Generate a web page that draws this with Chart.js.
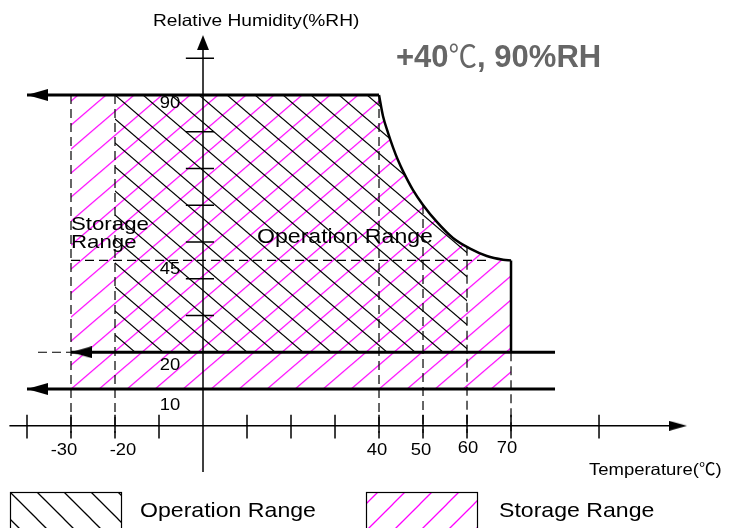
<!DOCTYPE html>
<html>
<head>
<meta charset="utf-8">
<script src="https://cdn.jsdelivr.net/npm/chart.js@4.4.1/dist/chart.umd.min.js"></script>
<style>
  html, body { margin: 0; padding: 0; background: #fff; }
  #wrap { width: 733px; height: 528px; position: relative; }
</style>
</head>
<body>
<div id="wrap"><canvas id="rhChart"></canvas></div>
<script>
// Boundary of the upper-right corner (temperature degC, humidity %RH)
const curveT  = [40, 40.9, 42.05, 43.2, 44.3, 45.45, 47.7, 50, 53.2, 56.8, 60.7, 64.5, 68.2, 70];
const curveRH = [90, 84.3, 79.7, 75.7, 72.3, 69.3, 64.2, 60.1, 55.4, 51.1, 48.2, 46.2, 45.2, 45];

// Hatched ranges
const storageT    = [-30, 40, 40.9, 42.05, 43.2, 44.3, 45.45, 47.7, 50, 53.2, 56.8, 60.7, 64.5, 68.2, 70, 70];
const storageRH   = [90, 90, 84.3, 79.7, 75.7, 72.3, 69.3, 64.2, 60.1, 55.4, 51.1, 48.2, 46.2, 45.2, 45, 10];
const operationT  = [-20, 40, 40.9, 42.05, 43.2, 44.3, 45.45, 47.7, 50, 53.2, 56.8, 60, 60];
const operationRH = [90, 90, 84.3, 79.7, 75.7, 72.3, 69.3, 64.2, 60.1, 55.4, 51.1, 48.7, 20];

// Solid limit lines
const top90T = [-40, 40];
const low20T = [-30, 80];
const low10T = [-40, 80];
const side70RH = [45, 20];

// Dashed guide lines
const guideT     = [-30, -20, 40, 50, 60, 70];
const guideTopRH = [90, 90, 90, 60.1, 48.7, 20];
const guideBottomRH = -2;
const guide45T = [-30, 65];
const guide20T = [-37.5, -30];

// Axes
const xAxisT  = [-44, 108];
const yAxisRH = [-12.6, 104];
const tempTicks = [-40, -30, -20, -10, 10, 20, 30, 40, 50, 60, 70, 90];
const rhTicks   = [30, 40, 50, 60, 70, 80, 100];
const tempLabels = [-30, -20, 40, 50, 60, 70];
const rhLabels   = [90, 45, 20, 10];

// Arrow heads
const arrowT   = [0, -40, -30, -40, 110];
const arrowRH  = [106.3, 90, 20, 10, 0];
const arrowDir = ['up', 'left', 'left', 'left', 'right'];

const FONT = '"Liberation Sans", Arial, "Noto Sans CJK SC", sans-serif';
const CJK = '"Noto Sans CJK SC", "Liberation Sans", sans-serif';

const canvas = document.getElementById('rhChart');
const ctx = canvas.getContext('2d');

function hatch(w, h, color, dir) {
  const c = document.createElement('canvas');
  c.width = w; c.height = h;
  const g = c.getContext('2d');
  g.strokeStyle = color;
  g.lineWidth = 1.25;
  for (let k = -1; k <= 1; k++) {
    g.beginPath();
    if (dir === '/') { g.moveTo(-w + k * w, 2 * h); g.lineTo(2 * w + k * w, -h); }
    else { g.moveTo(-w + k * w, -h); g.lineTo(2 * w + k * w, 2 * h); }
    g.stroke();
  }
  return ctx.createPattern(c, 'repeat');
}

const HW = 28, HH = 24;
const storagePat = hatch(HW, HH, '#ff00ff', '/');
const operationPat = hatch(HW, HH, '#000000', '\\');
const legendStoragePat = hatch(27, 27, '#ff00ff', '/');
const legendOperationPat = hatch(27, 27, '#000000', '\\');

function arrowImg(len, wid) {
  const c = document.createElement('canvas');
  c.width = len * 2; c.height = wid;
  const g = c.getContext('2d');
  g.fillStyle = '#000';
  g.beginPath();
  g.moveTo(0, 0); g.lineTo(len, wid / 2); g.lineTo(0, wid); g.closePath();
  g.fill();
  return c;
}
const arrowStyle = { up: arrowImg(15, 12), left: arrowImg(21, 12), right: arrowImg(18, 10) };
const arrowRot = { up: 270, left: 180, right: 0 };

function seg(xs, ys, opts) {
  return Object.assign({
    data: xs.map((x, i) => ({ x: x, y: ys[i] })),
    borderColor: '#000',
    borderWidth: 1.5,
    pointRadius: 0,
    fill: false,
    tension: 0,
    order: 1
  }, opts);
}

const dash = { borderWidth: 1.2, borderDash: [9, 5] };

const datasets = [
  seg(storageT, storageRH, { borderColor: 'transparent', borderWidth: 1, backgroundColor: storagePat,
    fill: { value: storageRH[storageRH.length - 1] }, order: 6 }),
  seg(operationT, operationRH, { borderColor: 'transparent', borderWidth: 1, backgroundColor: operationPat,
    fill: { value: operationRH[operationRH.length - 1] }, order: 5 }),
  seg(xAxisT, [0, 0]),
  seg([0, 0], yAxisRH),
  ...tempTicks.map(t => seg([t, t], [3, -3.5])),
  ...rhTicks.map(v => seg([-3.9, 2.5], [v, v])),
  ...guideT.map((t, i) => seg([t, t], [guideTopRH[i], guideBottomRH], dash)),
  seg(guide45T, [45, 45], dash),
  seg(guide20T, [20, 20], dash),
  seg(top90T, [90, 90], { borderWidth: 3 }),
  seg(curveT, curveRH, { borderWidth: 2.5, cubicInterpolationMode: 'monotone' }),
  seg([70, 70], side70RH, { borderWidth: 2.5 }),
  seg(low20T, [20, 20], { borderWidth: 3 }),
  seg(low10T, [10, 10], { borderWidth: 3 }),
  {
    data: arrowT.map((t, i) => ({ x: t, y: arrowRH[i] })),
    showLine: false,
    pointRadius: 6,
    pointStyle: c => arrowStyle[arrowDir[c.dataIndex]],
    rotation: c => arrowRot[arrowDir[c.dataIndex]],
    borderWidth: 0,
    order: 0
  }
];

function txt(g, s, x, y, size, sx, opts) {
  opts = opts || {};
  g.save();
  g.font = (opts.bold ? 'bold ' : '') + size + 'px ' + (opts.family || FONT);
  g.fillStyle = opts.color || '#000';
  g.textAlign = opts.align || 'left';
  g.textBaseline = 'alphabetic';
  g.translate(x, y);
  g.scale(sx, 1);
  g.fillText(s, 0, 0);
  const w = g.measureText(s).width * sx;
  g.restore();
  return w;
}

const phasePlugin = {
  id: 'phase',
  beforeDatasetsDraw(chart) {
    const xs = chart.scales.x, ys = chart.scales.y;
    storagePat.setTransform(new DOMMatrix().translate(
      xs.getPixelForValue(storageT[0]), ys.getPixelForValue(storageRH[storageRH.length - 1]) - HH));
    operationPat.setTransform(new DOMMatrix().translate(
      xs.getPixelForValue(operationT[0]), ys.getPixelForValue(operationRH[0])));
  }
};

const decorPlugin = {
  id: 'decor',
  afterDraw(chart) {
    const g = chart.ctx;
    const xs = chart.scales.x, ys = chart.scales.y;

    // tick labels
    const tOff = { '-30': [-7, 29], '-20': [8, 29], '40': [-2, 29], '50': [-2, 29], '60': [1, 27], '70': [-4, 27] };
    tempLabels.forEach(t => {
      const o = tOff[t] || [0, 29];
      txt(g, String(t), xs.getPixelForValue(t) + o[0], ys.getPixelForValue(0) + o[1], 16, 1.15, { align: 'center' });
    });
    const rOff = { '90': 13, '45': 14, '20': 18, '10': 21 };
    rhLabels.forEach(v => {
      txt(g, String(v), xs.getPixelForValue(0) - 33, ys.getPixelForValue(v) + rOff[v], 16, 1.15, { align: 'center' });
    });

    // axis titles
    txt(g, 'Relative Humidity(%RH)', 153, 26, 16.5, 1.16);
    let x = 589;
    x += txt(g, 'Temperature(', x, 475, 16.5, 1.12);
    x += txt(g, '\u2103', x, 475, 16.5, 1.0, { family: CJK });
    txt(g, ')', x, 475, 16.5, 1.12);

    // condition label
    x = 396;
    const grey = '#666666';
    x += txt(g, '+40', x, 67, 31, 1, { bold: true, color: grey });
    x += txt(g, '\u2103', x, 67, 31, 0.92, { family: CJK, color: grey });
    txt(g, ', 90%RH', x, 67, 31, 1, { bold: true, color: grey });

    // region labels
    txt(g, 'Storage', 71, 230, 19, 1.17);
    txt(g, 'Range', 71, 248, 19, 1.17);
    txt(g, 'Operation Range', 257, 243, 21, 1.1);

    // legend
    const boxes = [
      { x: 10, pat: legendOperationPat, label: 'Operation Range', tx: 140, dir: '\\' },
      { x: 366, pat: legendStoragePat, label: 'Storage Range', tx: 499, dir: '/' }
    ];
    boxes.forEach(b => {
      const top = 492, w = 111, h = 50;
      b.pat.setTransform(new DOMMatrix().translate(b.x, b.dir === '/' ? top + 12 : top));
      g.save();
      g.fillStyle = b.pat;
      g.fillRect(b.x, top, w, h);
      g.strokeStyle = '#000';
      g.lineWidth = 1.2;
      g.strokeRect(b.x + 0.5, top + 0.5, w, h);
      g.restore();
      txt(g, b.label, b.tx, 517, 21, 1.1);
    });
  }
};

new Chart(ctx, {
  type: 'line',
  data: { datasets: datasets },
  options: {
    responsive: true,
    maintainAspectRatio: false,
    animation: false,
    events: [],
    layout: { padding: 0, autoPadding: false },
    plugins: { legend: { display: false }, tooltip: { enabled: false } },
    scales: {
      x: { type: 'linear', display: false, min: -46.136, max: 120.45 },
      y: { type: 'linear', display: false, min: -27.82, max: 115.85 }
    }
  },
  plugins: [phasePlugin, decorPlugin]
});
</script>
</body>
</html>
